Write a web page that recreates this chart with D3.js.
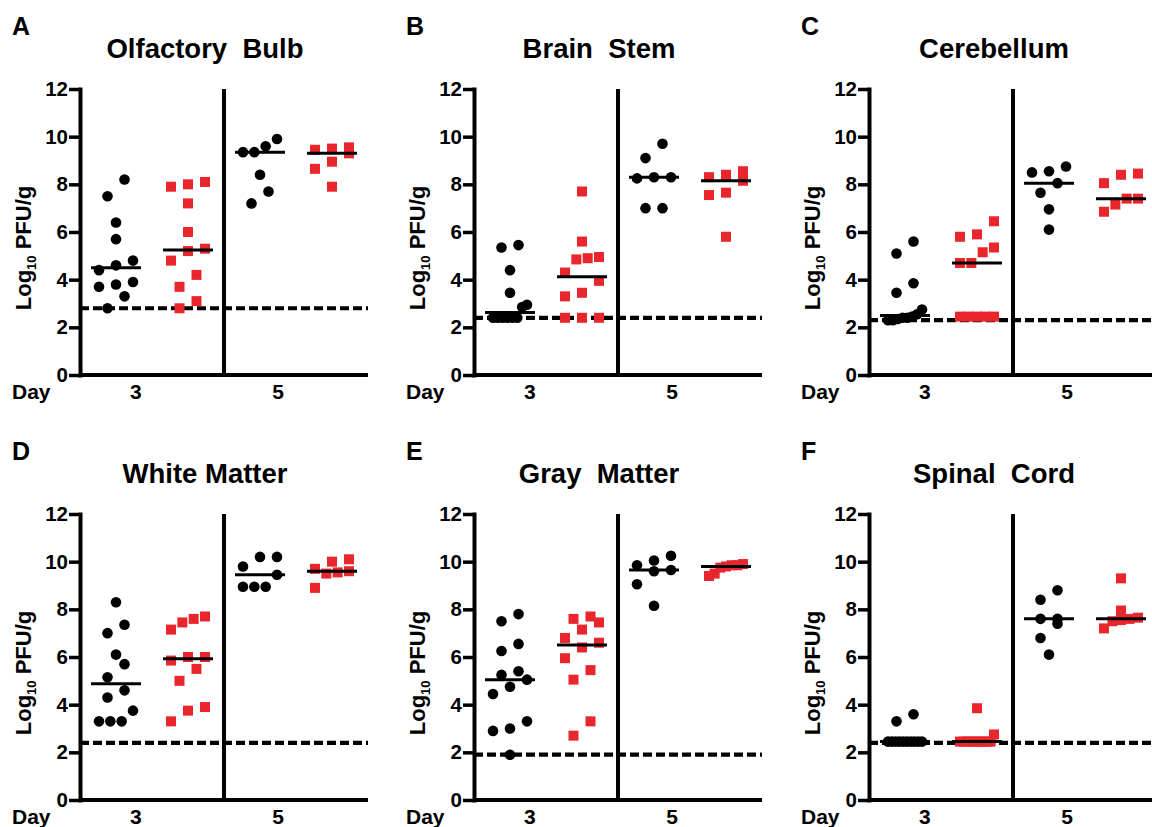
<!DOCTYPE html>
<html>
<head>
<meta charset="utf-8">
<script src="https://cdn.jsdelivr.net/npm/d3@7"></script>
<style>
  body { margin: 0; background: #fff; }
  svg { display: block; font-family: "Liberation Sans", Arial, sans-serif; font-weight: bold; }
</style>
</head>
<body>
<svg id="chart" width="1152" height="827"></svg>
<script>
// panel text
var panelLetters = ['A', 'B', 'C', 'D', 'E', 'F'];
var panelTitles = ['Olfactory  Bulb', 'Brain  Stem', 'Cerebellum', 'White Matter', 'Gray  Matter', 'Spinal  Cord'];
var yTicks = [0, 2, 4, 6, 8, 10, 12];
var dayLabels = ['3', '5'];
var detectionLimit = [2.8, 2.4, 2.3, 2.4, 1.9, 2.4];

// log10 PFU/g, black circles and red squares, day 3 and day 5
var olfD3Black = [8.2, 7.5, 6.4, 5.7, 4.8, 4.6, 4.4, 3.9, 3.8, 3.7, 3.3, 2.8];
var olfD3Red   = [8.0, 7.9, 8.1, 7.2, 6.0, 5.3, 5.2, 4.8, 4.2, 3.7, 3.1, 2.8];
var olfD5Black = [9.6, 9.9, 9.35, 9.35, 8.4, 7.7, 7.2];
var olfD5Red   = [9.55, 9.5, 9.45, 9.3, 8.95, 8.65, 7.9];

var bsD3Black = [5.45, 5.35, 4.4, 3.45, 2.95, 2.85, 2.4, 2.4, 2.4, 2.4, 2.4, 2.4];
var bsD3Red   = [7.7, 5.6, 4.95, 4.9, 4.85, 4.3, 3.95, 3.45, 3.3, 2.4, 2.4, 2.4];
var bsD5Black = [9.7, 9.1, 8.3, 8.25, 8.3, 7.0, 7.0];
var bsD5Red   = [8.55, 8.4, 8.3, 8.15, 7.65, 7.55, 5.8];

var cbD3Black = [5.6, 5.1, 3.85, 3.45, 2.75, 2.55, 2.45, 2.4, 2.4, 2.35, 2.3, 2.3];
var cbD3Red   = [6.45, 5.9, 5.8, 5.35, 5.15, 4.7, 4.7, 2.45, 2.45, 2.45, 2.45, 2.45];
var cbD5Black = [8.75, 8.55, 8.5, 8.05, 7.65, 6.95, 6.1];
var cbD5Red   = [8.45, 8.4, 8.05, 7.4, 7.4, 7.15, 6.85];

var wmD3Black = [8.3, 7.35, 7.0, 6.1, 5.7, 5.15, 4.6, 4.3, 3.75, 3.3, 3.3, 3.3];
var wmD3Red   = [7.7, 7.45, 7.6, 7.15, 6.0, 6.0, 5.85, 5.5, 5.0, 3.9, 3.75, 3.3];
var wmD5Black = [10.2, 10.2, 9.8, 9.45, 8.95, 8.95, 8.95];
var wmD5Red   = [10.1, 10.0, 9.7, 9.6, 9.55, 9.5, 8.9];

var gmD3Black = [7.8, 7.5, 6.55, 6.25, 5.4, 5.25, 5.05, 4.75, 4.45, 3.3, 3.0, 2.9, 1.9];
var gmD3Red   = [7.7, 7.45, 7.6, 7.15, 6.8, 6.6, 6.4, 5.95, 5.45, 5.05, 3.3, 2.7];
var gmD5Black = [10.25, 10.05, 9.85, 9.65, 9.6, 9.05, 8.15];
var gmD5Red   = [9.9, 9.85, 9.85, 9.8, 9.75, 9.5, 9.4];

var scD3Black = [3.6, 3.3, 2.45, 2.45, 2.45, 2.45, 2.45, 2.45, 2.45, 2.45, 2.45, 2.45];
var scD3Red   = [3.85, 2.75, 2.45, 2.45, 2.45, 2.45, 2.45, 2.45, 2.45, 2.45, 2.45, 2.45];
var scD5Black = [8.8, 8.4, 7.6, 7.6, 7.4, 6.8, 6.1];
var scD5Red   = [9.3, 7.95, 7.65, 7.6, 7.55, 7.5, 7.2];

var panelData = [
    [olfD3Black, olfD3Red, olfD5Black, olfD5Red],
    [bsD3Black, bsD3Red, bsD5Black, bsD5Red],
    [cbD3Black, cbD3Red, cbD5Black, cbD5Red],
    [wmD3Black, wmD3Red, wmD5Black, wmD5Red],
    [gmD3Black, gmD3Red, gmD5Black, gmD5Red],
    [scD3Black, scD3Red, scD5Black, scD5Red]
];

const red = '#e8262c';
const colX = [80, 474, 869];
const rowY0 = [375, 800];
const plotH = 286;
const plotW = 288;
const groupPos = [1, 3, 5, 7];     // slots on a 0..8 x domain
const dayPos = [1.55, 5.5];
const rowSpan = 0.7;               // y distance grouped into one swarm row

const svg = d3.select('#chart');

// simple column scatter: points close in y are spread side by side
function swarm(vals) {
    var sorted = vals.slice().sort(d3.ascending);
    var rows = [];
    sorted.forEach(function (v) {
        var last = rows[rows.length - 1];
        if (last && v - last[0] < rowSpan) last.push(v);
        else rows.push([v]);
    });
    var out = [];
    rows.forEach(function (r) {
        var step = r.length > 1 ? Math.min(17, 34 / (r.length - 1)) : 0;
        r.forEach(function (v, i) {
            out.push({ v: v, dx: (i - (r.length - 1) / 2) * step });
        });
    });
    return out;
}

panelData.forEach(function (groups, p) {
    var x0 = colX[p % 3];
    var y0 = rowY0[Math.floor(p / 3)];
    var g = svg.append('g').attr('transform', 'translate(' + x0 + ',' + (y0 - plotH) + ')');

    var xScale = d3.scaleLinear().domain([0, 8]).range([0, plotW]);
    var yScale = d3.scaleLinear().domain([0, 12]).range([plotH, 0]);

    // detection limit
    g.append('line')
        .attr('x1', 0).attr('x2', plotW)
        .attr('y1', yScale(detectionLimit[p])).attr('y2', yScale(detectionLimit[p]))
        .attr('stroke', '#000').attr('stroke-width', 4.2)
        .attr('stroke-dasharray', '9,4');

    // day divider
    g.append('line')
        .attr('x1', xScale(4)).attr('x2', xScale(4))
        .attr('y1', yScale(12)).attr('y2', yScale(0))
        .attr('stroke', '#000').attr('stroke-width', 4);

    // x axis line
    g.append('line')
        .attr('x1', 0).attr('x2', plotW)
        .attr('y1', yScale(0)).attr('y2', yScale(0))
        .attr('stroke', '#000').attr('stroke-width', 4);

    var yAxis = g.append('g')
        .call(d3.axisLeft(yScale).tickValues(yTicks).tickSize(11).tickSizeOuter(0).tickPadding(1));
    yAxis.select('.domain').attr('stroke-width', 4).attr('stroke-linecap', 'square');
    yAxis.selectAll('.tick line').attr('stroke-width', 3.5);
    yAxis.selectAll('.tick text')
        .attr('font-size', 20.5).attr('font-weight', 'bold')
        .attr('font-family', '"Liberation Sans", Arial, sans-serif')
        .attr('fill', '#000');

    // points
    groups.forEach(function (vals, gi) {
        var cx = xScale(groupPos[gi]);
        var pts = swarm(vals);
        if (gi % 2 === 0) {
            g.selectAll(null).data(pts).enter().append('circle')
                .attr('cx', function (d) { return cx + d.dx; })
                .attr('cy', function (d) { return yScale(d.v); })
                .attr('r', 5.3)
                .attr('fill', '#000');
        } else {
            g.selectAll(null).data(pts).enter().append('rect')
                .attr('x', function (d) { return cx + d.dx - 5; })
                .attr('y', function (d) { return yScale(d.v) - 5; })
                .attr('width', 10).attr('height', 10)
                .attr('fill', red);
        }
    });

    // medians
    groups.forEach(function (vals, gi) {
        var cx = xScale(groupPos[gi]);
        var m = d3.median(vals);
        g.append('line')
            .attr('x1', cx - 25).attr('x2', cx + 25)
            .attr('y1', yScale(m)).attr('y2', yScale(m))
            .attr('stroke', '#000').attr('stroke-width', 3);
    });

    // day labels
    g.append('text')
        .attr('x', -68).attr('y', plotH + 24)
        .attr('font-size', 21)
        .text('Day');
    g.selectAll(null).data(dayLabels).enter().append('text')
        .attr('x', function (d, i) { return xScale(dayPos[i]); })
        .attr('y', plotH + 24)
        .attr('text-anchor', 'middle')
        .attr('font-size', 21)
        .text(function (d) { return d; });

    // y label
    var yl = g.append('text')
        .attr('transform', 'translate(-49,' + (plotH / 2 + 16) + ') rotate(-90)')
        .attr('text-anchor', 'middle')
        .attr('font-size', 22);
    yl.append('tspan').text('Log');
    yl.append('tspan').attr('font-size', 13).attr('dy', 5).text('10');
    yl.append('tspan').attr('dy', -5).text(' PFU/g');

    // title and panel letter
    g.append('text')
        .attr('x', 125).attr('y', plotH - 317)
        .attr('text-anchor', 'middle')
        .attr('font-size', 27.5)
        .style('white-space', 'pre')
        .text(panelTitles[p]);
    g.append('text')
        .attr('x', -68).attr('y', plotH - 340)
        .attr('font-size', 25)
        .text(panelLetters[p]);
});
</script>
</body>
</html>
